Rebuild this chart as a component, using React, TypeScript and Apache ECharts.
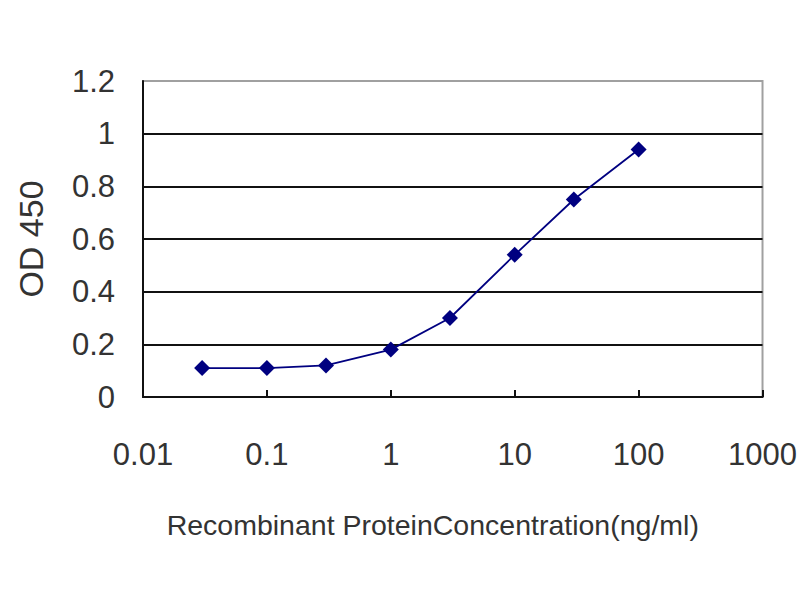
import React, { useEffect, useRef } from "react";
import * as echarts from "echarts";

const concentrations = [0.03, 0.1, 0.3, 1, 3, 10, 30, 100];
const odValues = [0.11, 0.11, 0.12, 0.18, 0.3, 0.54, 0.75, 0.94];
const xAxisTitle = "Recombinant ProteinConcentration(ng/ml)";
const yAxisTitle = "OD 450";

export default function App() {
  const ref = useRef<HTMLDivElement>(null);
  useEffect(() => {
    if (!ref.current) return;
    const chart = echarts.init(ref.current, undefined, { renderer: "svg" });
    const font = "Liberation Sans, Arial, sans-serif";
    chart.setOption({
      animation: false,
      backgroundColor: "#ffffff",
      grid: {
        left: 143,
        right: 36,
        top: 81,
        bottom: 203,
        show: true,
        borderColor: "#a0a0a0",
        borderWidth: 2,
      },
      xAxis: {
        type: "log",
        logBase: 10,
        min: 0.01,
        max: 1000,
        name: xAxisTitle,
        nameLocation: "middle",
        nameGap: 113,
        nameTextStyle: { fontFamily: font, fontSize: 28.5, color: "#333", padding: [0, 40, 0, 0] },
        axisLine: { show: true, lineStyle: { color: "#111", width: 2 } },
        axisTick: { show: true, inside: true, length: 7, lineStyle: { color: "#111", width: 2 } },
        minorTick: { show: false },
        splitLine: { show: false },
        axisLabel: {
          fontFamily: font,
          fontSize: 31,
          color: "#333",
          margin: 42,
          formatter: (v: number) => String(Number(v.toPrecision(6))),
        },
      },
      yAxis: {
        type: "value",
        min: 0,
        max: 1.2,
        interval: 0.2,
        name: yAxisTitle,
        nameLocation: "middle",
        nameGap: 95,
        nameRotate: 90,
        nameTextStyle: { fontFamily: font, fontSize: 34, color: "#333" },
        axisLine: { show: true, lineStyle: { color: "#111", width: 2 } },
        axisTick: { show: false },
        splitLine: {
          show: true,
          lineStyle: {
            color: ["#111", "#111", "#111", "#111", "#111", "#111", "#a0a0a0"],
            width: 2,
          },
        },
        axisLabel: { fontFamily: font, fontSize: 31, color: "#333", margin: 28 },
      },
      series: [
        {
          type: "line",
          data: concentrations.map((c, i) => [c, odValues[i]]),
          symbol: "diamond",
          symbolSize: 16,
          lineStyle: { color: "#000080", width: 1.8 },
          itemStyle: { color: "#000080" },
        },
      ],
    });
    return () => chart.dispose();
  }, []);
  return <div ref={ref} style={{ width: 800, height: 600, position: "absolute", left: 0, top: 0 }} />;
}
